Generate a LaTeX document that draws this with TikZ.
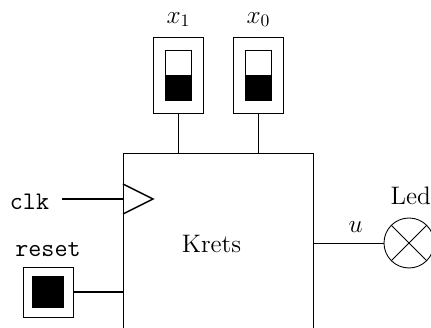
\documentclass[tikz,border=0pt]{standalone}
\usepackage{amsmath}
\usepackage{tikz}
\usetikzlibrary{calc}

\begin{document}
\begin{tikzpicture}
	[line width=0.5pt,every node/.style={inner sep=0pt,outer sep=0pt,font=\Large}]
	\tikzstyle{edges} = [semithick];
	\tikzstyle{switchbox} = [draw,minimum width=1cm,minimum height=1.52cm];
	\tikzstyle{switchslot} = [draw,minimum width=0.52cm,minimum height=1cm];
	\useasboundingbox (0,0) rectangle (8.62,6.56);
	\clip (0,0) rectangle (8.62,6.56);

	\node[draw,minimum width=3.8cm,minimum height=4.8cm] (krets) at (4.36,1.1) {};
	\node (kretstext) at (4.23,1.69) {Krets};

	\node[switchbox,label={[yshift=5.7pt]above:$x_1$}] (x1) at (3.57,5.06) {};
	\node[switchbox,label={[yshift=5.7pt]above:$x_0$}] (x0) at (5.17,5.06) {};
	\node[switchslot] (s1) at (x1) {};
	\node[switchslot] (s0) at (x0) {};
	\fill (s1.west) rectangle (s1.south east);
	\fill (s0.west) rectangle (s0.south east);
	\draw[edges] (x1.south) -- (x1.south |- krets.north);
	\draw[edges] (x0.south) -- (x0.south |- krets.north);

	\coordinate (c1) at (krets.west |- 0,2.88);
	\coordinate (c2) at (krets.west |- 0,2.28);
	\coordinate (c3) at (3.06,2.58);
	\draw[thick] (c1) -- (c3) -- (c2);
	\node (clk) at (0.59,2.53) {\texttt{clk}};
	\coordinate (clkin) at (1.24,2.58);
	\draw[thick] (clkin) -- (clkin -| krets.west);

	\node[draw,minimum size=1cm,label={[yshift=5.7pt]above:\texttt{reset}}] (reset) at (0.96,0.72) {};
	\node[fill=black,minimum size=0.64cm] (resetin) at (reset) {};
	\draw[edges] (reset.east) -- (reset.east -| krets.west);

	\node[draw,circle,minimum size=1cm,label={[yshift=7.4pt,xshift=1pt]above:Led}] (led) at (8.18,1.7) {};
	\draw (led.45) -- (led.225);
	\draw (led.135) -- (led.315);
	\draw (led.west -| krets.east) -- node[above=5.7pt,pos=0.6] {$u$} (led.west);
\end{tikzpicture}
\end{document}
